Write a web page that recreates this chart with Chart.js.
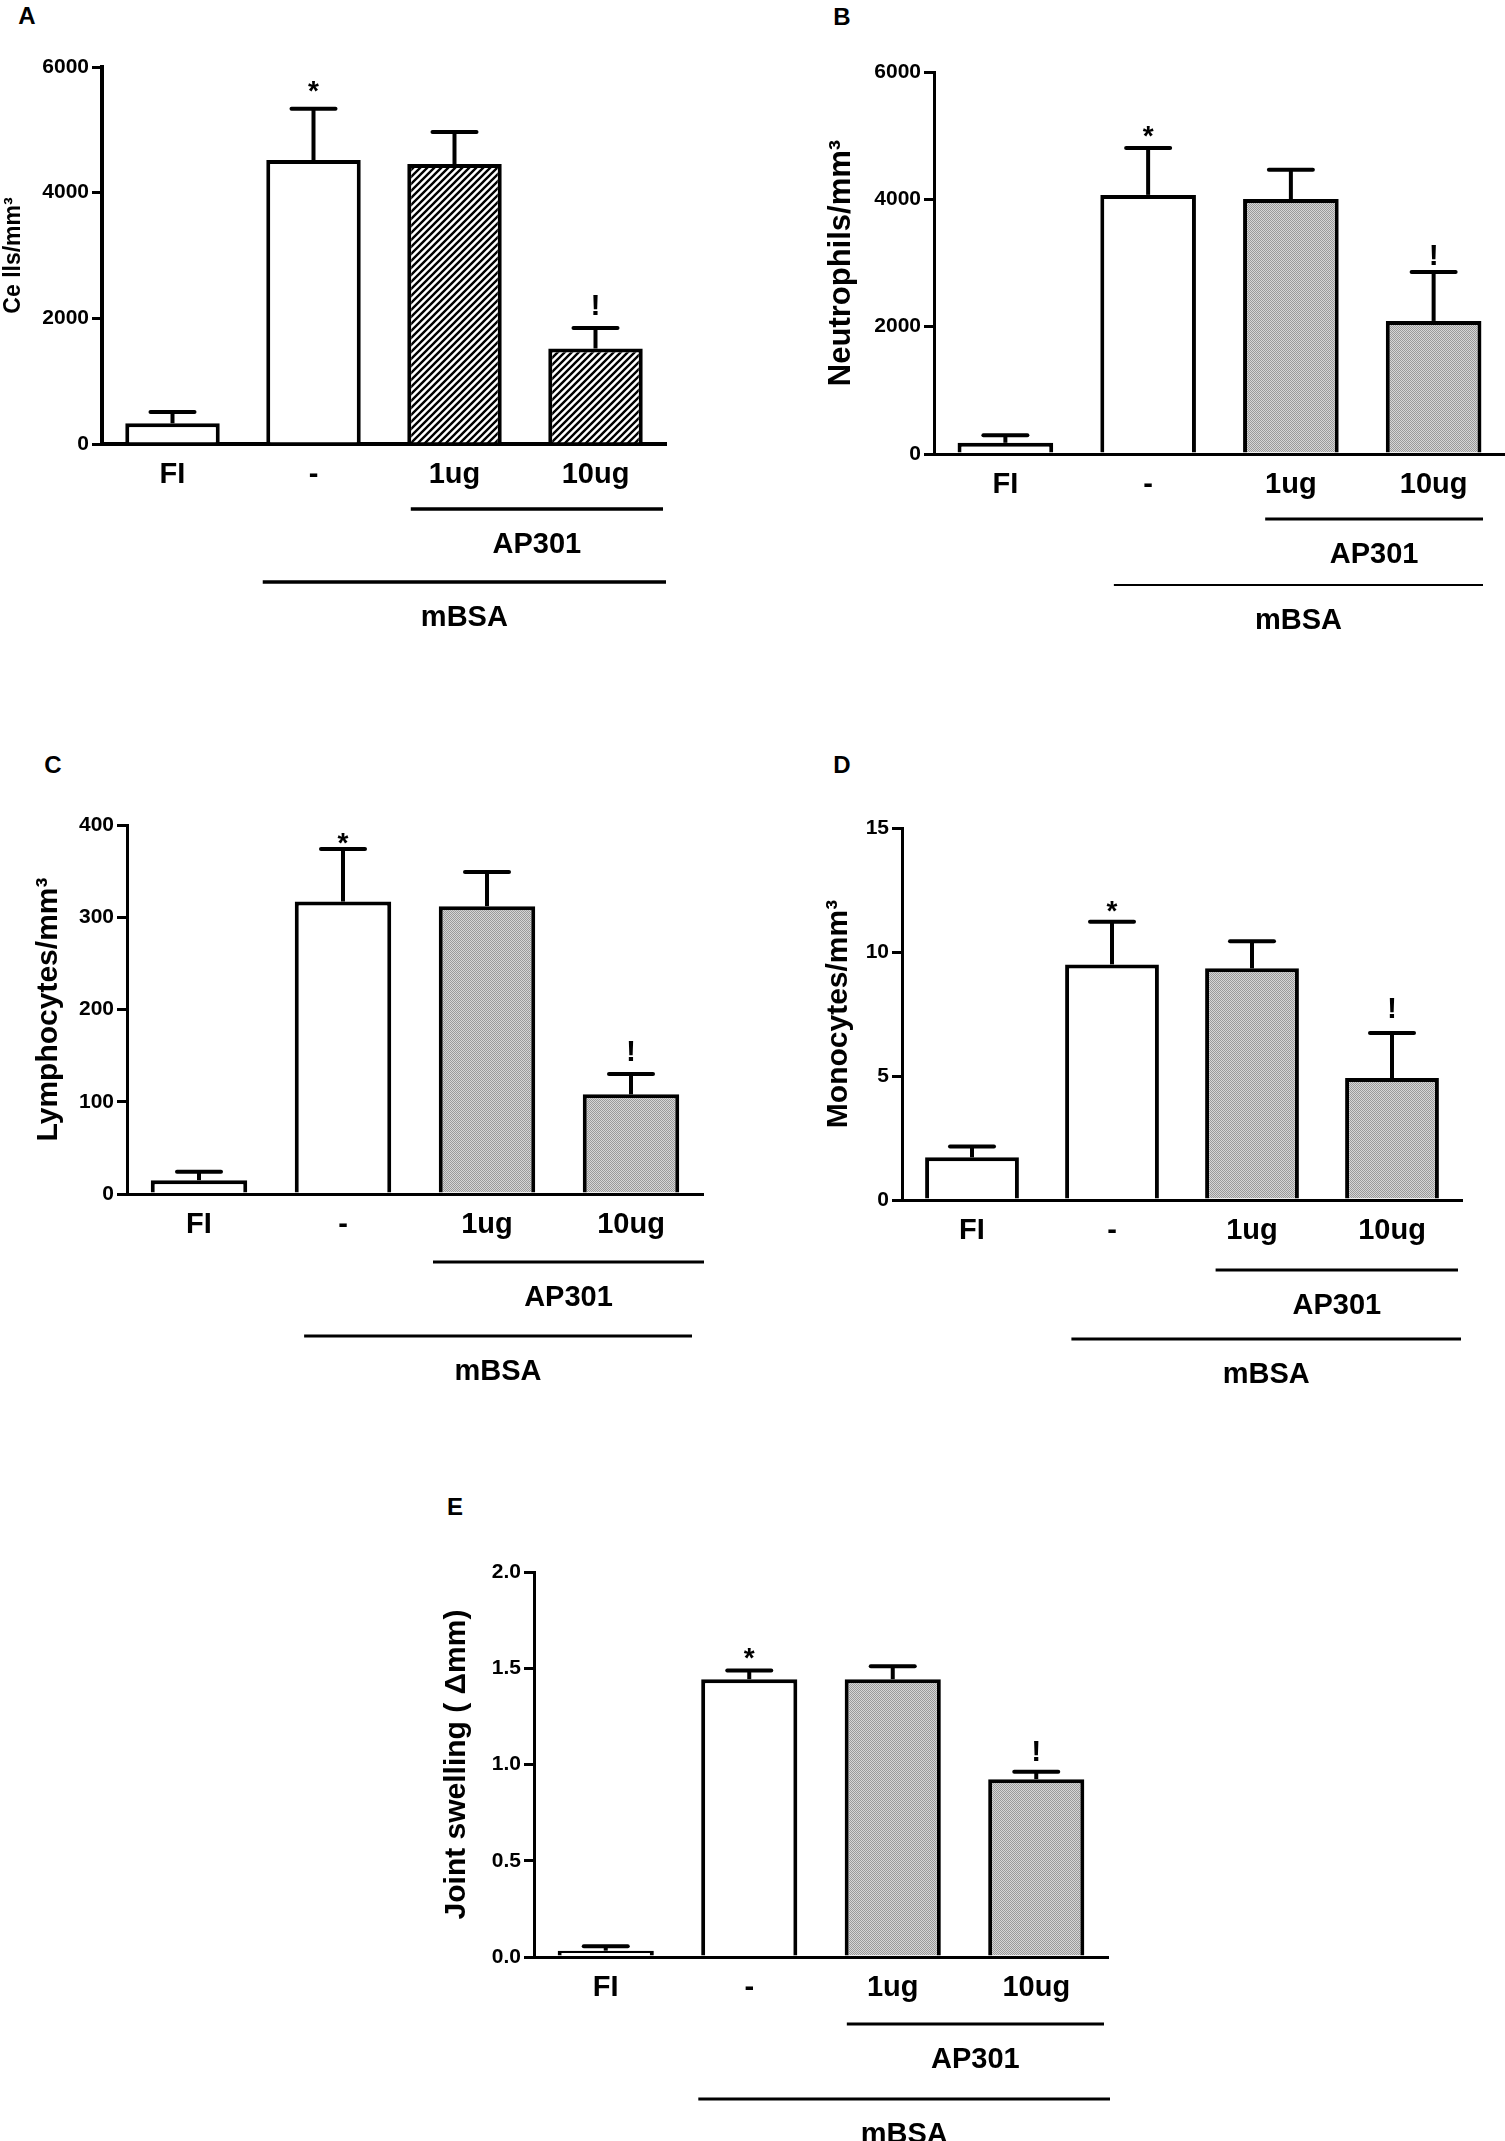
<!DOCTYPE html>
<html lang="en">
<head>
<meta charset="UTF-8">
<title>AP301 – mBSA arthritis</title>
<script src="https://cdn.jsdelivr.net/npm/chart.js"></script>
<style>
  body { margin: 0; background: #fff; }
  #page {
    position: relative;
    width: 1505px;
    height: 2141px;
    overflow: hidden;
    font-family: "Liberation Sans", Arial, sans-serif;
  }
  .panel { position: absolute; }
  .letter {
    position: absolute;
    font-weight: bold;
    font-size: 24px;
    line-height: 1;
    transform: translate(-50%, -50%);
  }
</style>
</head>
<body>
<div id="page">
  <div class="letter" style="left:27px;top:16px">A</div>
  <div class="letter" style="left:842px;top:17px">B</div>
  <div class="letter" style="left:53px;top:765px">C</div>
  <div class="letter" style="left:842px;top:765px">D</div>
  <div class="letter" style="left:455px;top:1507px">E</div>

  <div class="panel" style="left:0;top:0;width:700px;height:700px"><canvas id="chartA"></canvas></div>
  <div class="panel" style="left:750px;top:0;width:755px;height:700px"><canvas id="chartB"></canvas></div>
  <div class="panel" style="left:0;top:730px;width:720px;height:700px"><canvas id="chartC"></canvas></div>
  <div class="panel" style="left:750px;top:730px;width:755px;height:700px"><canvas id="chartD"></canvas></div>
  <div class="panel" style="left:380px;top:1470px;width:760px;height:671px"><canvas id="chartE"></canvas></div>
</div>

<script>
// ---- data ----
const groups = ['FI', '-', '1ug', '10ug'];
const marks = ['', '*', '', '!'];
const bracketNames = ['AP301', 'mBSA'];
const bracketStart = [2, 1];   // first category under each bracket

const cellsMean = [330, 4520, 4455, 1520];
const cellsSem = [180, 815, 510, 325];

const neutroMean = [176, 4070, 4005, 2090];
const neutroSem = [118, 735, 460, 770];

const lymphoMean = [15, 317, 312, 108];
const lymphoSem = [9, 57, 37, 22];

const monoMean = [1.72, 9.5, 9.34, 4.92];
const monoSem = [0.44, 1.72, 1.09, 1.81];

const swellMean = [0.033, 1.443, 1.443, 0.924];
const swellSem = [0.023, 0.045, 0.067, 0.038];

const FONT = '"Liberation Sans", Arial, sans-serif';
Chart.defaults.font.family = FONT;
Chart.defaults.color = '#000';

function hatchPattern() {
  const c = document.createElement('canvas');
  c.width = c.height = 7;
  const g = c.getContext('2d');
  g.fillStyle = '#fff';
  g.fillRect(0, 0, 7, 7);
  g.strokeStyle = '#000';
  g.lineWidth = 2.4;
  g.beginPath();
  g.moveTo(-1, 8); g.lineTo(8, -1);
  g.moveTo(-2, 2); g.lineTo(2, -2);
  g.moveTo(5, 9); g.lineTo(9, 5);
  g.stroke();
  return g.createPattern(c, 'repeat');
}

function stipplePattern() {
  const c = document.createElement('canvas');
  c.width = c.height = 4;
  const g = c.getContext('2d');
  g.fillStyle = '#d6d6d6';
  g.fillRect(0, 0, 4, 4);
  g.fillStyle = '#9a9a9a';
  for (let i = 0; i < 4; i++)
    for (let j = 0; j < 4; j++)
      if ((i + j) % 2 === 0) g.fillRect(i, j, 1, 1);
  return g.createPattern(c, 'repeat');
}

const hatch = hatchPattern();
const grey = stipplePattern();

// error bars, significance marks and group brackets
const prismPlugin = {
  id: 'prism',
  afterDatasetsDraw(chart, args, opts) {
    const ctx = chart.ctx;
    const y = chart.scales.y;
    const meta = chart.getDatasetMeta(0);
    ctx.save();
    ctx.strokeStyle = '#000';
    ctx.fillStyle = '#000';
    ctx.lineWidth = 4;
    meta.data.forEach((bar, i) => {
      const top = y.getPixelForValue(opts.mean[i] + opts.sem[i]);
      ctx.lineCap = 'butt';
      ctx.beginPath();
      ctx.moveTo(bar.x, bar.y);
      ctx.lineTo(bar.x, top);
      ctx.stroke();
      ctx.lineCap = 'round';
      ctx.beginPath();
      ctx.moveTo(bar.x - opts.cap / 2, top);
      ctx.lineTo(bar.x + opts.cap / 2, top);
      ctx.stroke();

      const m = marks[i];
      if (m === '*') {
        ctx.font = 'bold 28px ' + FONT;
        ctx.textAlign = 'center';
        ctx.textBaseline = 'alphabetic';
        ctx.fillText(m, bar.x, top - opts.markOff[0] + 16);
      } else if (m === '!') {
        ctx.font = 'bold 30px ' + FONT;
        ctx.textAlign = 'center';
        ctx.textBaseline = 'alphabetic';
        ctx.fillText(m, bar.x, top - opts.markOff[1] + 11);
      }
    });
    ctx.restore();
  },
  afterDraw(chart, args, opts) {
    const ctx = chart.ctx;
    const x = chart.scales.x;
    const area = chart.chartArea;
    const step = (area.right - area.left) / groups.length;
    ctx.save();
    ctx.strokeStyle = '#000';
    ctx.fillStyle = '#000';
    opts.brackets.forEach((b, k) => {
      const x0 = x.getPixelForValue(bracketStart[k]) + b.start * step;
      const x1 = area.right + b.end;
      const yy = area.bottom + b.dy;
      ctx.lineWidth = b.w;
      ctx.beginPath();
      ctx.moveTo(x0, yy);
      ctx.lineTo(x1, yy);
      ctx.stroke();
      ctx.font = 'bold 29px ' + FONT;
      ctx.textAlign = 'center';
      ctx.textBaseline = 'middle';
      ctx.fillText(bracketNames[k], (x0 + x1) / 2, yy + 36);
    });
    ctx.restore();
  }
};

function makeChart(id, cfg) {
  return new Chart(document.getElementById(id), {
    type: 'bar',
    data: {
      labels: groups,
      datasets: [{
        data: cfg.mean,
        backgroundColor: cfg.fills,
        borderColor: '#000',
        borderWidth: 4,
        borderSkipped: 'start',
        categoryPercentage: 1,
        barPercentage: 0.67
      }]
    },
    options: {
      responsive: true,
      maintainAspectRatio: false,
      animation: false,
      layout: { padding: { top: cfg.padTop, right: cfg.padRight, left: 0, bottom: 0 } },
      plugins: {
        legend: { display: false },
        tooltip: { enabled: false },
        prism: { mean: cfg.mean, sem: cfg.sem, cap: 44, markOff: cfg.markOff, brackets: cfg.brackets }
      },
      scales: {
        x: {
          grid: { display: false, drawTicks: false },
          border: { display: true, color: '#000', width: cfg.axisW },
          ticks: { color: '#000', padding: 14, font: { size: 29, weight: 'bold' } },
          afterFit(s) { s.height = cfg.xHeight; }
        },
        y: {
          min: 0,
          max: cfg.max,
          border: { display: true, color: '#000', width: cfg.yAxisW },
          grid: { drawOnChartArea: false, drawTicks: true, tickLength: 10, lineWidth: 3, color: '#000' },
          ticks: {
            stepSize: cfg.step,
            color: '#000',
            padding: 3,
            font: { size: 21, weight: 'bold' },
            callback: cfg.fmt
          },
          title: {
            display: true,
            text: cfg.title,
            color: '#000',
            font: { size: cfg.titleSize, weight: 'bold' },
            padding: { top: cfg.titlePad, bottom: 0 }
          },
          afterFit(s) { s.width = cfg.yWidth; }
        }
      }
    },
    plugins: [prismPlugin]
  });
}

const intFmt = v => String(v);
const oneDec = v => v.toFixed(1);

makeChart('chartA', {
  mean: cellsMean, sem: cellsSem, fills: ['#fff', '#fff', hatch, hatch],
  max: 6000, step: 2000, fmt: intFmt,
  title: 'Ce lls/mm³', titleSize: 23, titlePad: 0,
  yWidth: 102, padTop: 67, padRight: 34, xHeight: 256, axisW: 4, yAxisW: 4,
  markOff: [25, 24],
  brackets: [{ start: -0.31, end: -3, dy: 65, w: 3.5 }, { start: -0.36, end: 0, dy: 138, w: 3.5 }]
});

makeChart('chartB', {
  mean: neutroMean, sem: neutroSem, fills: ['#fff', '#fff', grey, grey],
  max: 6000, step: 2000, fmt: intFmt,
  title: 'Neutrophils/mm³', titleSize: 31, titlePad: 73,
  yWidth: 184, padTop: 72, padRight: 0, xHeight: 246, axisW: 3, yAxisW: 3,
  markOff: [19, 18],
  brackets: [{ start: -0.18, end: -22, dy: 65, w: 3 }, { start: -0.24, end: -22, dy: 131, w: 2 }]
});

makeChart('chartC', {
  mean: lymphoMean, sem: lymphoSem, fills: ['#fff', '#fff', grey, grey],
  max: 400, step: 100, fmt: intFmt,
  title: 'Lymphocytes/mm³', titleSize: 30, titlePad: 31,
  yWidth: 127, padTop: 95, padRight: 17, xHeight: 236, axisW: 3, yAxisW: 3,
  markOff: [13, 24],
  brackets: [{ start: -0.375, end: 1, dy: 68, w: 3 }, { start: -0.27, end: -11, dy: 142, w: 3 }]
});

makeChart('chartD', {
  mean: monoMean, sem: monoSem, fills: ['#fff', '#fff', grey, grey],
  max: 15, step: 5, fmt: intFmt,
  title: 'Monocytes/mm³', titleSize: 30, titlePad: 71,
  yWidth: 152, padTop: 98, padRight: 43, xHeight: 230, axisW: 3, yAxisW: 3,
  markOff: [18, 26],
  brackets: [{ start: -0.26, end: -4, dy: 70, w: 3 }, { start: -0.29, end: -1, dy: 139, w: 3 }]
});

makeChart('chartE', {
  mean: swellMean, sem: swellSem, fills: ['#fff', '#fff', grey, grey],
  max: 2, step: 0.5, fmt: oneDec,
  title: 'Joint swelling ( Δmm)', titleSize: 30, titlePad: 59,
  yWidth: 154, padTop: 102, padRight: 32, xHeight: 184, axisW: 3, yAxisW: 3,
  markOff: [20, 22],
  brackets: [{ start: -0.32, end: -4, dy: 67, w: 3 }, { start: -0.355, end: 2, dy: 142, w: 3 }]
});
</script>
</body>
</html>
